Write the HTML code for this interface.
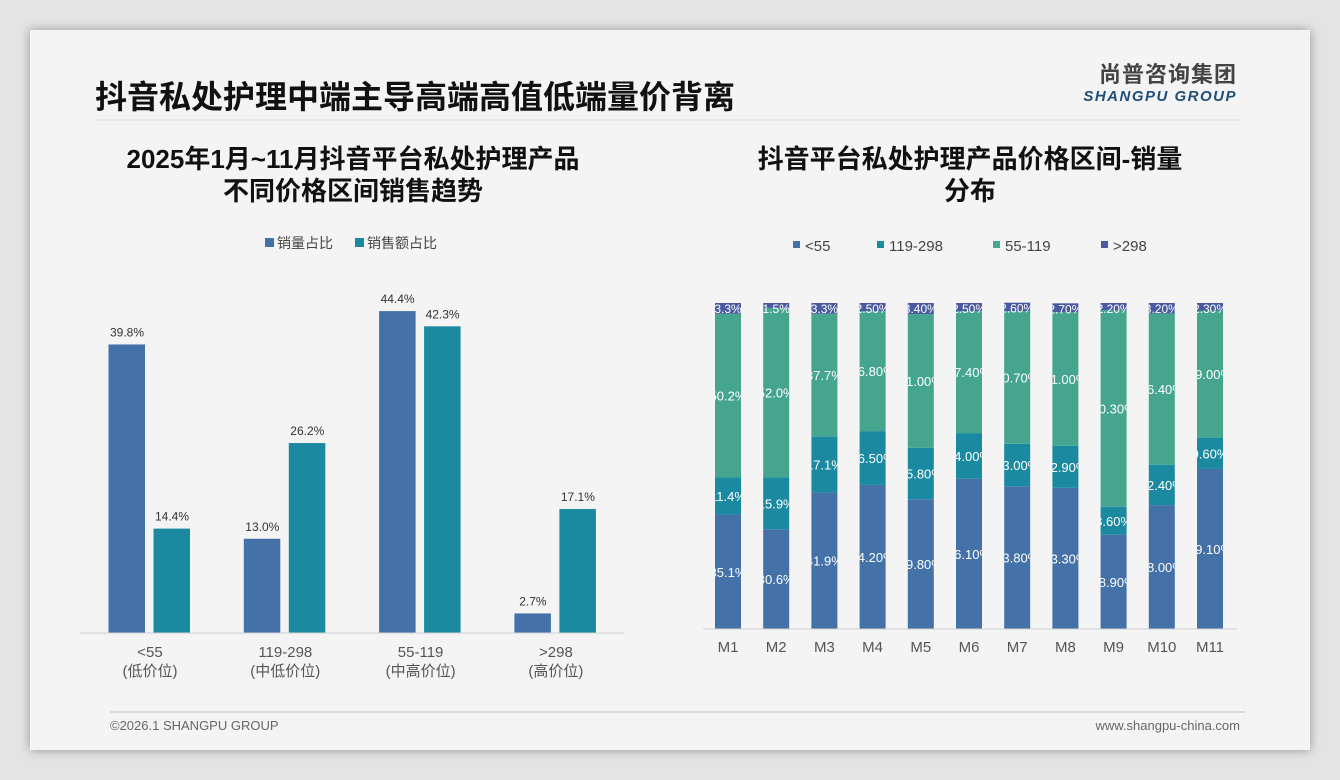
<!DOCTYPE html>
<html><head><meta charset="utf-8">
<style>
body{margin:0;width:1340px;height:780px;background:#e4e4e4;overflow:hidden;font-family:"Liberation Sans","Noto Sans CJK SC",sans-serif}
#card{position:absolute;left:30px;top:30px;width:1280px;height:720px;background:#f4f4f4;box-shadow:0 0 10px rgba(0,0,0,.35)}
</style></head><body>
<div id="card"></div>
<svg id="svg" width="1340" height="780" style="position:absolute;left:0;top:0" font-family="Liberation Sans, Noto Sans CJK SC, sans-serif">
<text x="95" y="108" font-size="32" font-weight="bold" fill="#111">抖音私处护理中端主导高端高值低端量价背离</text>
<line x1="95" y1="120" x2="1240" y2="120" stroke="#dcdcdc"/>
<text x="1237" y="82" font-size="22" font-weight="bold" fill="#444" text-anchor="end" letter-spacing="1">尚普咨询集团</text>
<text x="1237" y="101" font-size="15" font-weight="bold" font-style="italic" fill="#1f4e79" text-anchor="end" letter-spacing="1.5">SHANGPU GROUP</text>
<text x="353" y="168" font-size="26" font-weight="bold" fill="#111" text-anchor="middle">2025年1月~11月抖音平台私处护理产品</text>
<text x="353" y="200" font-size="26" font-weight="bold" fill="#111" text-anchor="middle">不同价格区间销售趋势</text>
<text x="970" y="168" font-size="26" font-weight="bold" fill="#111" text-anchor="middle">抖音平台私处护理产品价格区间-销量</text>
<text x="970" y="200" font-size="26" font-weight="bold" fill="#111" text-anchor="middle">分布</text>
<g id="left"></g><g id="right"></g>
<line x1="110" y1="712" x2="1245" y2="712" stroke="#b8c4d4"/>
<text x="110" y="730" font-size="13" fill="#666">©2026.1 SHANGPU GROUP</text>
<text x="1240" y="730" font-size="13" fill="#666" text-anchor="end">www.shangpu-china.com</text>
</svg>
<script>
const leftCats=["<55","119-298","55-119",">298"];
const leftSub=["(低价位)","(中低价位)","(中高价位)","(高价位)"];
const volShare=[39.8,13.0,44.4,2.7];
const amtShare=[14.4,26.2,42.3,17.1];
const months=["M1","M2","M3","M4","M5","M6","M7","M8","M9","M10","M11"];
const sLow=[35.1,30.6,41.9,44.2,39.8,46.1,43.8,43.3,28.9,38.0,49.1];
const sMidLow=[11.4,15.9,17.1,16.5,15.8,14.0,13.0,12.9,8.6,12.4,9.6];
const sMidHigh=[50.2,52.0,37.7,36.8,41.0,37.4,40.7,41.0,60.3,46.4,39.0];
const sHigh=[3.3,1.5,3.3,2.5,3.4,2.5,2.6,2.7,2.2,3.2,2.3];
const lowLbl=["35.1%","30.6%","41.9%","44.20%","39.80%","46.10%","43.80%","43.30%","28.90%","38.00%","49.10%"];
const NS="http://www.w3.org/2000/svg";
function mk(t,a,p,txt){const e=document.createElementNS(NS,t);for(const k in a)e.setAttribute(k,a[k]);if(txt!=null)e.textContent=txt;p.appendChild(e);return e;}
const L=document.getElementById('left'),R=document.getElementById('right');
const yL=v=>633-v*7.25, xG=i=>150+i*135.3;
let e;
e=mk('rect',{x:265,y:238,width:9,height:9,fill:'#4472a8'},L);
e=mk('text',{x:277,y:248,'font-size':14,fill:'#444'},L,'销量占比');
e=mk('rect',{x:355,y:238,width:9,height:9,fill:'#1b8aa0'},L);
e=mk('text',{x:367,y:248,'font-size':14,fill:'#444'},L,'销售额占比');
leftCats.forEach((c,i)=>{
 const x=xG(i);
 e=mk('rect',{x:x-41.5,y:yL(volShare[i]),width:36.5,height:633-yL(volShare[i]),fill:'#4472a8'},L);
 
 e=mk('text',{x:x-23,y:yL(volShare[i])-8,'font-size':12,fill:'#333','text-anchor':'middle'},L,volShare[i].toFixed(1)+'%');
 
 e=mk('rect',{x:x+3.5,y:yL(amtShare[i]),width:36.5,height:633-yL(amtShare[i]),fill:'#1b8aa0'},L);
 
 e=mk('text',{x:x+22,y:yL(amtShare[i])-8,'font-size':12,fill:'#333','text-anchor':'middle'},L,amtShare[i].toFixed(1)+'%');
 
 e=mk('text',{x:x,y:657,'font-size':15,fill:'#555','text-anchor':'middle'},L,c);
 
 e=mk('text',{x:x,y:676,'font-size':15,fill:'#555','text-anchor':'middle'},L,leftSub[i]);
 
});
e=mk('line',{x1:80,y1:633,x2:624,y2:633,stroke:'#d0d0d0'},L);
const legs=[["<55",'#4472a8',793],["119-298",'#1b8aa0',877],["55-119",'#45a58e',993],[">298",'#4a5aa0',1101]];
legs.forEach((l,i)=>{
 e=mk('rect',{x:l[2],y:241,width:7,height:7,fill:l[1]},R);
 e=mk('text',{x:l[2]+12,y:251,'font-size':15,fill:'#444'},R,l[0]);
});
const yB=629,H=326,yR=v=>v/100*H,xM=i=>728+i*48.2,BW=26;
const defs=mk('defs',{},R);
months.forEach((m,i)=>{
 const x=xM(i);
 const cp=mk('clipPath',{id:'c'+i},defs);mk('rect',{x:x-BW/2,y:yB-H-2,width:BW,height:H+4},cp);
 const segs=[[sLow[i],'#4472a8',lowLbl[i]],[sMidLow[i],'#1b8aa0',sMidLow[i].toFixed(i<3?1:2)+'%'],[sMidHigh[i],'#45a58e',sMidHigh[i].toFixed(i<3?1:2)+'%'],[sHigh[i],'#4a5aa0',sHigh[i].toFixed(i<3?1:2)+'%']];
 let acc=0;
 const g=mk('g',{'clip-path':'url(#c'+i+')'},R);
 segs.forEach((s,j)=>{
  const h=yR(s[0]),top=yB-yR(acc)-h;
  e=mk('rect',{x:x-BW/2,y:top,width:BW,height:h,fill:s[1]},R);
  
  const ty=j===3?top+10:top+h/2+5;
  e=mk('text',{x:x,y:ty,'font-size':j===3?12:13,fill:'#fff','text-anchor':'middle'},g,s[2]);
  
  acc+=s[0];
 });
 R.appendChild(g);
 e=mk('text',{x:x,y:652,'font-size':15,fill:'#555','text-anchor':'middle'},R,m);
 
});
e=mk('line',{x1:703,y1:629,x2:1237,y2:629,stroke:'#d0d0d0'},R);
</script>
</body></html>
